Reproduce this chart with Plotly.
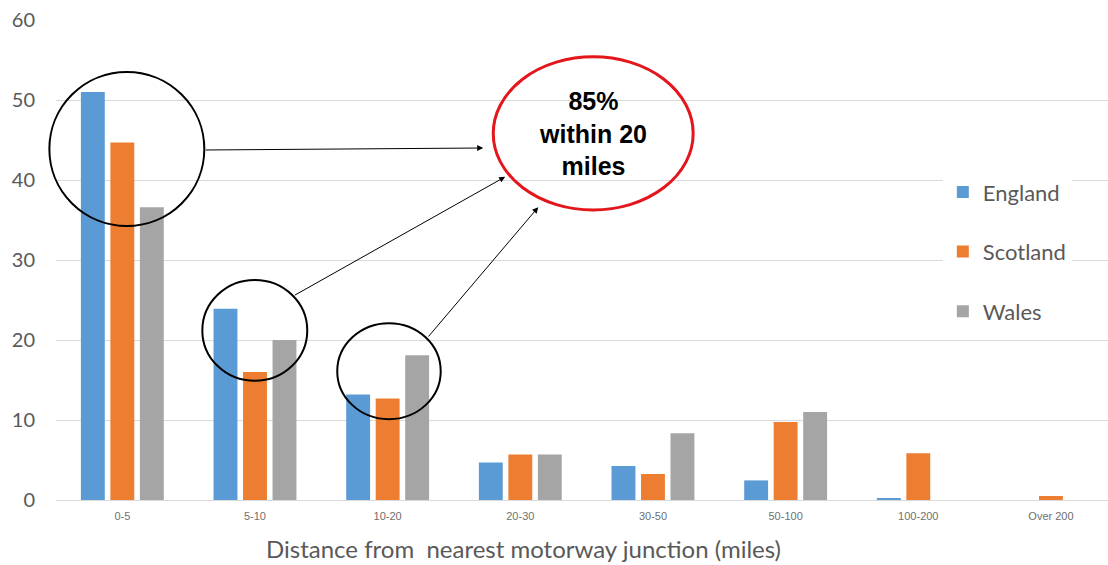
import plotly.graph_objects as go

categories = ["0-5", "5-10", "10-20", "20-30", "30-50", "50-100", "100-200", "Over 200"]
england = [51.0, 23.9, 13.2, 4.7, 4.25, 2.45, 0.2, 0.0]
scotland = [44.7, 16.0, 12.7, 5.7, 3.25, 9.75, 5.85, 0.5]
wales = [36.6, 20.0, 18.1, 5.7, 8.35, 11.0, 0.0, 0.0]
series_names = ["England", "Scotland", "Wales"]
colors = ["#5B9BD5", "#ED7D31", "#A5A5A5"]
y_ticks = [0, 10, 20, 30, 40, 50, 60]
x_title = "Distance from  nearest motorway junction (miles)"
callout_text = "<b>85%<br>within 20<br>miles</b>"

X_RANGE = [-0.5, 7.43]
Y_RANGE = [0, 60]


def px(i):
    return (i - X_RANGE[0]) / (X_RANGE[1] - X_RANGE[0])


def py(v):
    return (v - Y_RANGE[0]) / (Y_RANGE[1] - Y_RANGE[0])


fig = go.Figure()
for name, vals, col in zip(series_names, [england, scotland, wales], colors):
    fig.add_trace(go.Bar(x=categories, y=vals, name=name, marker_color=col,
                         marker_line_width=0, legendgroup=name))

grey = "#595959"
fig.update_layout(
    width=1108, height=565,
    margin=dict(l=56, r=0, t=20, b=65),
    paper_bgcolor="white", plot_bgcolor="white",
    barmode="group", bargap=0.333, bargroupgap=0.19,
    font=dict(family="Lato, Open Sans, sans-serif", color=grey),
    showlegend=True,
    legend=dict(x=0.843, y=0.685, xanchor="left", yanchor="top",
                bgcolor="white", font=dict(size=22, color=grey),
                tracegroupgap=28, itemwidth=30),
)
fig.update_xaxes(type="category", range=X_RANGE, showgrid=False,
                 showline=True, linecolor="#D9D9D9", linewidth=1,
                 ticks="", tickfont=dict(family="Liberation Sans Narrow, Arial Narrow, sans-serif", size=11, color="#6f6f6f"),
                 ticklabelstandoff=6)
fig.update_yaxes(range=Y_RANGE, tickvals=y_ticks, showgrid=True, gridcolor="#D9D9D9",
                 gridwidth=1, zeroline=False, showline=False, ticks="",
                 tickfont=dict(size=20, color=grey), ticklabelstandoff=20)

# x title as annotation
fig.add_annotation(text=x_title, xref="paper", yref="paper", x=(523 - 56) / 1052, y=-48 / 480,
                   xanchor="center", yanchor="middle", showarrow=False,
                   font=dict(size=24, color=grey, family="Lato, Open Sans, sans-serif"))

# circles (paper refs so they are not clipped by the plot area)
circles = [(-0.55, 34.25, 0.618, 53.5), (0.603, 14.9, 1.394, 27.5), (1.62, 10.1, 2.40, 22.1)]
for x0, y0, x1, y1 in circles:
    fig.add_shape(type="circle", xref="paper", yref="paper", x0=px(x0), y0=py(y0), x1=px(x1), y1=py(y1),
                  line=dict(color="black", width=2))
fig.add_shape(type="circle", xref="paper", yref="paper", x0=px(2.796), y0=py(36.25), x1=px(4.303), y1=py(55.4),
              line=dict(color="#E3161C", width=3), fillcolor="rgba(255,255,255,0)")

fig.add_annotation(text=callout_text, xref="x", yref="y", x=3.55, y=45.8, showarrow=False,
                   font=dict(size=25, color="black", family="Liberation Sans, Arial, sans-serif"),
                   align="center")

arrows = [((0.618, 43.75), (2.72, 44.0)), ((1.289, 25.5), (2.886, 40.4)), ((2.298, 20.25), (3.135, 36.6))]
for (tx, ty), (hx, hy) in arrows:
    fig.add_annotation(x=hx, y=hy, ax=tx, ay=ty, xref="x", yref="y", axref="x", ayref="y",
                       text="", showarrow=True, arrowhead=2, arrowsize=1.2, arrowwidth=1,
                       arrowcolor="black")

fig.write_html("out.html", config={"displayModeBar": False},
               post_script="document.body.style.margin='0';document.body.style.overflow='hidden';")
